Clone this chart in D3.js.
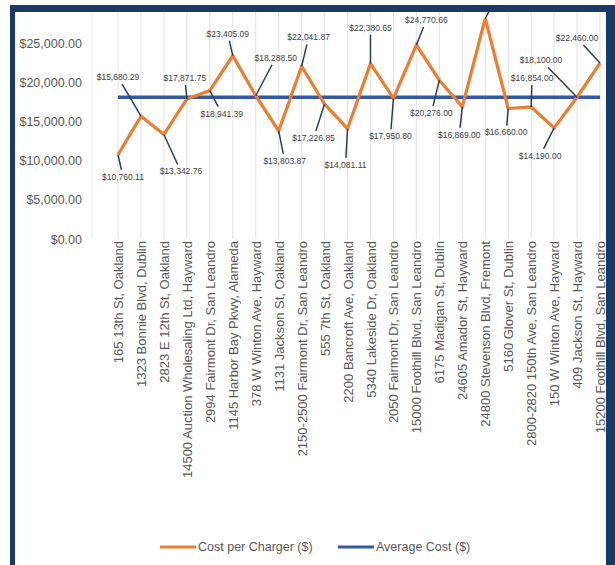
<!DOCTYPE html>
<html lang="en">
<head>
  <meta charset="UTF-8" />
  <title>Cost per Charger</title>
  <style>
    body { margin: 0; background: #fff; }
    svg { display: block; font-family: "Liberation Sans", Arial, sans-serif; }
  </style>
</head>
<body>
<script src="https://cdn.jsdelivr.net/npm/d3@7"></script>
<script>
// charger sites (x categories)
var sites = [
  "165 13th St, Oakland",
  "1323 Bonnie Blvd, Dublin",
  "2823 E 12th St, Oakland",
  "14500 Auction Wholesaling Ltd, Hayward",
  "2994 Fairmont Dr, San Leandro",
  "1145 Harbor Bay Pkwy, Alameda",
  "378 W Winton Ave, Hayward",
  "1131 Jackson St, Oakland",
  "2150-2500 Fairmont Dr, San Leandro",
  "555 7th St, Oakland",
  "2200 Bancroft Ave, Oakland",
  "5340 Lakeside Dr, Oakland",
  "2050 Fairmont Dr, San Leandro",
  "15000 Foothill Blvd, San Leandro",
  "6175 Madigan St, Dublin",
  "24605 Amador St, Hayward",
  "24800 Stevenson Blvd, Fremont",
  "5160 Glover St, Dublin",
  "2800-2820 150th Ave, San Leandro",
  "150 W Winton Ave, Hayward",
  "409 Jackson St, Hayward",
  "15200 Foothill Blvd, San Leandro"
];

// cost per charger ($)
var costs = [
  10760.11, 15680.29, 13342.76, 17871.75, 18941.39, 23405.09,
  18288.50, 13803.87, 22041.87, 17226.85, 14081.11, 22380.65,
  17950.80, 24770.66, 20276.00, 16869.00, 28150.00, 16660.00,
  16854.00, 14190.00, 18100.00, 22460.00
];

// average cost ($), one value for every site
var averageCost = [18100];

var yTicks = [0, 5000, 10000, 15000, 20000, 25000];

// where each data label sits relative to its point (dx, dy);
// the peak's label runs off the top of the picture, so only its leader shows
var labelOffsets = [
  [5, 22], [-23, -39], [17, 37], [-2, -21], [12, 23], [-5, -22],
  [20, -38], [6, 30], [7, -29], [-11, 34], [-2, 36], [0, -36],
  [-3, 38], [10, -25], [-8, 33], [-3, 28], [15, -28], [-2, 24],
  [1, -29], [-14, 28], [-36, -37], [-23, -25]
];
var hiddenLabel = 16;

var w = 615;
var h = 565;

var orange = "#ed7d31";
var blue = "#3258a8";
var grey = "#595959";
var fmt = d3.format("$,.2f");

var svg = d3.select("body")
  .append("svg")
  .attr("width", w)
  .attr("height", h);

svg.append("defs").append("clipPath")
  .attr("id", "plotclip")
  .append("rect")
  .attr("x", 15)
  .attr("y", 12)
  .attr("width", 591)
  .attr("height", 240);

var xScale = d3.scalePoint()
  .domain(sites)
  .range([118, 600]);

var yScale = d3.scaleLinear()
  .domain([0, 30000])
  .range([239, 4]);

var plot = svg.append("g").attr("clip-path", "url(#plotclip)");

// vertical gridlines at each site
plot.selectAll("line.grid")
  .data(sites)
  .enter().append("line")
  .attr("class", "grid")
  .attr("x1", function(d) { return xScale(d); })
  .attr("x2", function(d) { return xScale(d); })
  .attr("y1", yScale(30000))
  .attr("y2", yScale(0))
  .attr("stroke", "#e3e3e3")
  .attr("stroke-width", 1);

plot.append("line")
  .attr("x1", 92).attr("x2", 92)
  .attr("y1", yScale(30000)).attr("y2", yScale(0))
  .attr("stroke", "#ececec");

// y axis labels, right edge at x = 82
var yAxis = d3.axisLeft(yScale)
  .tickValues(yTicks)
  .tickFormat(fmt)
  .tickSize(0)
  .tickPadding(0);

svg.append("g")
  .attr("class", "y-axis")
  .attr("transform", "translate(82,0)")
  .call(yAxis)
  .call(function(g) { g.select(".domain").remove(); })
  .selectAll("text")
  .attr("x", 0)
  .attr("text-anchor", "end")
  .attr("fill", grey)
  .style("font-size", "12.5px")
  .style("font-family", "Liberation Sans, Arial, sans-serif");

// x axis with rotated site names
var xAxis = d3.axisBottom(xScale)
  .tickSize(0)
  .tickPadding(0);

svg.append("g")
  .attr("class", "x-axis")
  .attr("transform", "translate(0," + yScale(0) + ")")
  .call(xAxis)
  .call(function(g) { g.select(".domain").remove(); })
  .selectAll("text")
  .attr("fill", grey)
  .style("font-size", "13px")
  .style("font-family", "Liberation Sans, Arial, sans-serif")
  .attr("text-anchor", "end")
  .attr("transform", "rotate(-90)")
  .attr("x", -2)
  .attr("y", 0)
  .attr("dy", "0.35em");

// average line
plot.append("line")
  .attr("x1", xScale(sites[0]))
  .attr("x2", xScale(sites[sites.length - 1]))
  .attr("y1", yScale(averageCost[0]))
  .attr("y2", yScale(averageCost[0]))
  .attr("stroke", blue)
  .attr("stroke-width", 3.5);

// cost line
var line = d3.line()
  .x(function(d, i) { return xScale(sites[i]); })
  .y(function(d) { return yScale(d); });

plot.append("path")
  .datum(costs)
  .attr("d", line)
  .attr("fill", "none")
  .attr("stroke", orange)
  .attr("stroke-width", 3.2)
  .attr("stroke-linejoin", "miter");

// leader lines and data labels
var labels = costs.map(function(d, i) {
  var px = xScale(sites[i]);
  var py = yScale(d);
  var off = labelOffsets[i];
  var t = (Math.abs(off[1]) - 7) / Math.abs(off[1]);
  return {
    index: i,
    value: d,
    px: px, py: py,
    lx: px + off[0], ly: py + off[1],
    ex: px + off[0] * t, ey: py + off[1] * t
  };
});

plot.selectAll("line.leader")
  .data(labels)
  .enter().append("line")
  .attr("class", "leader")
  .attr("x1", function(d) { return d.px; })
  .attr("y1", function(d) { return d.py; })
  .attr("x2", function(d) { return d.ex; })
  .attr("y2", function(d) { return d.ey; })
  .attr("stroke", "#2f3f52")
  .attr("stroke-width", 1.5);

plot.selectAll("text.dlabel")
  .data(labels.filter(function(d) { return d.index !== hiddenLabel; }))
  .enter().append("text")
  .attr("class", "dlabel")
  .attr("x", function(d) { return d.lx; })
  .attr("y", function(d) { return d.ly; })
  .attr("text-anchor", "middle")
  .attr("dy", "0.35em")
  .attr("fill", "#404040")
  .style("font-size", "8.5px")
  .text(function(d) { return fmt(d.value); });

// legend
var legend = [
  { name: "Cost per Charger ($)", color: orange, x: 160 },
  { name: "Average Cost ($)", color: blue, x: 338 }
];

var lg = svg.selectAll("g.legend")
  .data(legend)
  .enter().append("g")
  .attr("class", "legend")
  .attr("transform", function(d) { return "translate(" + d.x + ",547)"; });

lg.append("line")
  .attr("x1", 0).attr("x2", 36)
  .attr("y1", 0).attr("y2", 0)
  .attr("stroke", function(d) { return d.color; })
  .attr("stroke-width", 3);

lg.append("text")
  .attr("x", 38)
  .attr("dy", "0.35em")
  .attr("fill", grey)
  .style("font-size", "12.5px")
  .text(function(d) { return d.name; });

// navy frame round the picture
var navy = "#173a68";
svg.append("rect").attr("x", 10).attr("y", 5).attr("width", 605).attr("height", 7).attr("fill", navy);
svg.append("rect").attr("x", 10).attr("y", 5).attr("width", 5).attr("height", 560).attr("fill", navy);
svg.append("rect").attr("x", 606).attr("y", 5).attr("width", 9).attr("height", 560).attr("fill", navy);
</script>
</body>
</html>
